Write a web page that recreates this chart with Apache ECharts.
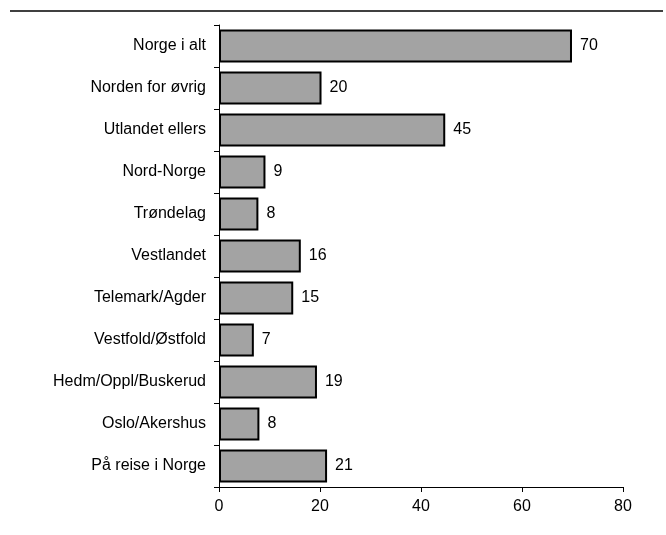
<!DOCTYPE html>
<html>
<head>
<meta charset="utf-8">
<script src="https://cdn.jsdelivr.net/npm/echarts@6/dist/echarts.min.js"></script>
<style>html,body{margin:0;padding:0;background:#fff}#c{width:666px;height:535px}</style>
</head>
<body>
<div id="c"></div>
<script>
var categories = ["Norge i alt","Norden for øvrig","Utlandet ellers","Nord-Norge","Trøndelag","Vestlandet","Telemark/Agder","Vestfold/Østfold","Hedm/Oppl/Buskerud","Oslo/Akershus","På reise i Norge"];
var values = [69.9, 20.3, 44.8, 9.2, 7.8, 16.2, 14.7, 6.9, 19.4, 8.0, 21.4];
var xTicks = [0, 20, 40, 60, 80];

var chart = echarts.init(document.getElementById('c'), null, {renderer: 'canvas'});
var font = 'Liberation Sans, Arial, sans-serif';
chart.setOption({
  animation: false,
  grid: {left: 219, right: 43, top: 25, bottom: 48, containLabel: false},
  xAxis: {
    type: 'value', min: xTicks[0], max: xTicks[xTicks.length-1], interval: 20,
    axisLine: {show: true, lineStyle: {color: '#000', width: 1}},
    axisTick: {show: true, length: 5, lineStyle: {color: '#000'}},
    splitLine: {show: false},
    axisLabel: {color: '#000', fontSize: 16, fontFamily: font, margin: 12}
  },
  yAxis: {
    type: 'category', data: categories, inverse: true,
    axisLine: {show: true, lineStyle: {color: '#000', width: 1}},
    axisTick: {show: true, length: 5, alignWithLabel: false, lineStyle: {color: '#000'}},
    axisLabel: {color: '#000', fontSize: 16, fontFamily: font, margin: 13}
  },
  series: [{
    type: 'bar', data: values, barCategoryGap: '21%',
    itemStyle: {color: '#a3a3a3', borderColor: '#000', borderWidth: 2},
    label: {show: true, position: 'right', distance: 8, color: '#000', fontSize: 16, fontFamily: font,
      formatter: function(p){ return Math.round(p.value); }}
  }],
  graphic: [{type: 'line', shape: {x1: 10, y1: 11, x2: 663, y2: 11}, style: {stroke: '#000', lineWidth: 1.5}}]
});
</script>
</body>
</html>
